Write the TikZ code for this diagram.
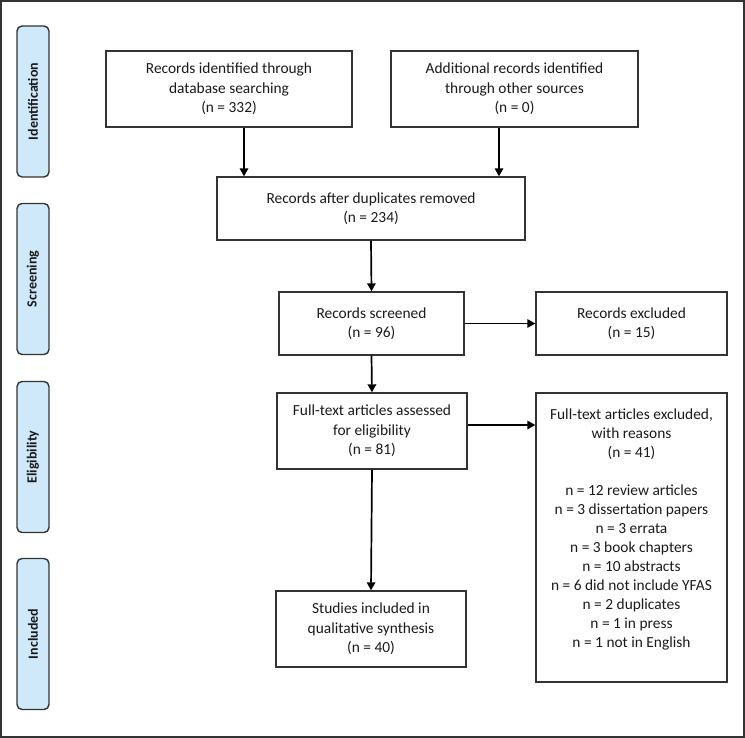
\documentclass[tikz,border=0pt]{standalone}
\usepackage{fontspec}
\setmainfont{Carlito}
\usetikzlibrary{arrows.meta}
\definecolor{sidefill}{HTML}{CFE9FA}
\definecolor{edge}{HTML}{333333}
\definecolor{ink}{HTML}{1A1A1A}
\begin{document}
\begin{tikzpicture}[x=1pt,y=-1pt,
  box/.style={draw=edge,line width=1.4pt,fill=white,align=center,text=ink,
    font=\fontsize{15.4}{19.5}\selectfont,inner sep=0pt},
  side/.style={draw=edge,line width=1.4pt,fill=sidefill,rounded corners=5pt,
    minimum width=32pt,minimum height=151pt,inner sep=0pt},
  sidetext/.style={rotate=90,font=\bfseries\fontsize{14}{16}\selectfont,text=ink},
  arr/.style={draw=black,line width=1.7pt,-{Triangle[length=8pt,width=8.5pt]}}]
\useasboundingbox (0,0) rectangle (745,738);
\draw[edge,line width=1.5pt] (1,1) rectangle (744,737);
% side labels
\node[side] (s1) at (33,101.5) {};
\node[sidetext] at (s1) {Identification};
\node[side] (s2) at (33,279) {};
\node[sidetext] at (s2) {Screening};
\node[side] (s3) at (33,457) {};
\node[sidetext] at (s3) {Eligibility};
\node[side] (s4) at (33,634) {};
\node[sidetext] at (s4) {Included};
% boxes
\node[box,minimum width=246pt,minimum height=76pt] (b1) at (229,89)
  {Records identified through\\database searching\\(n = 332)};
\node[box,minimum width=247pt,minimum height=76pt] (b2) at (514.5,89)
  {Additional records identified\\through other sources\\(n = 0)};
\node[box,minimum width=308pt,minimum height=63pt] (b3) at (371,208.5)
  {Records after duplicates removed\\(n = 234)};
\node[box,minimum width=185pt,minimum height=63pt] (b4) at (371.5,323.5)
  {Records screened\\(n = 96)};
\node[box,minimum width=191pt,minimum height=63pt] (b4x) at (631.5,323.5)
  {Records excluded\\(n = 15)};
\node[box,minimum width=190pt,minimum height=76pt] (b5) at (372,431)
  {Full-text articles assessed\\for eligibility\\(n = 81)};
\node[box,minimum width=191pt,minimum height=289pt] (b6) at (631.5,537.5) {};
\node[box,draw=none,fill=none,anchor=north,font=\fontsize{15.4}{19}\selectfont] (b6t) at ([yshift=-16pt]b6.north)
  {Full-text articles excluded,\\with reasons\\(n = 41)\\[19pt]
   n = 12 review articles\\n = 3 dissertation papers\\n = 3 errata\\
   n = 3 book chapters\\n = 10 abstracts\\n = 6 did not include YFAS\\
   n = 2 duplicates\\n = 1 in press\\n = 1 not in English};
\node[box,minimum width=190pt,minimum height=76pt] (b7) at (371,629)
  {Studies included in\\qualitative synthesis\\(n = 40)};
% connectors
\draw[arr] ([xshift=15pt]b1.south) -- ([xshift=15pt]b1.south |- b3.north);
\draw[arr] ([xshift=-15.5pt]b2.south) -- ([xshift=-15.5pt]b2.south |- b3.north);
\draw[arr] (b3.south) -- (b4.north);
\draw[arr] (b4.east) -- (b4x.west);
\draw[arr] (b4.south) -- (b5.north);
\draw[arr] ([yshift=6pt]b5.east) -- ([yshift=6pt]b5.east -| b6.west);
\draw[arr] (b5.south) -- (b7.north);
\end{tikzpicture}
\end{document}
